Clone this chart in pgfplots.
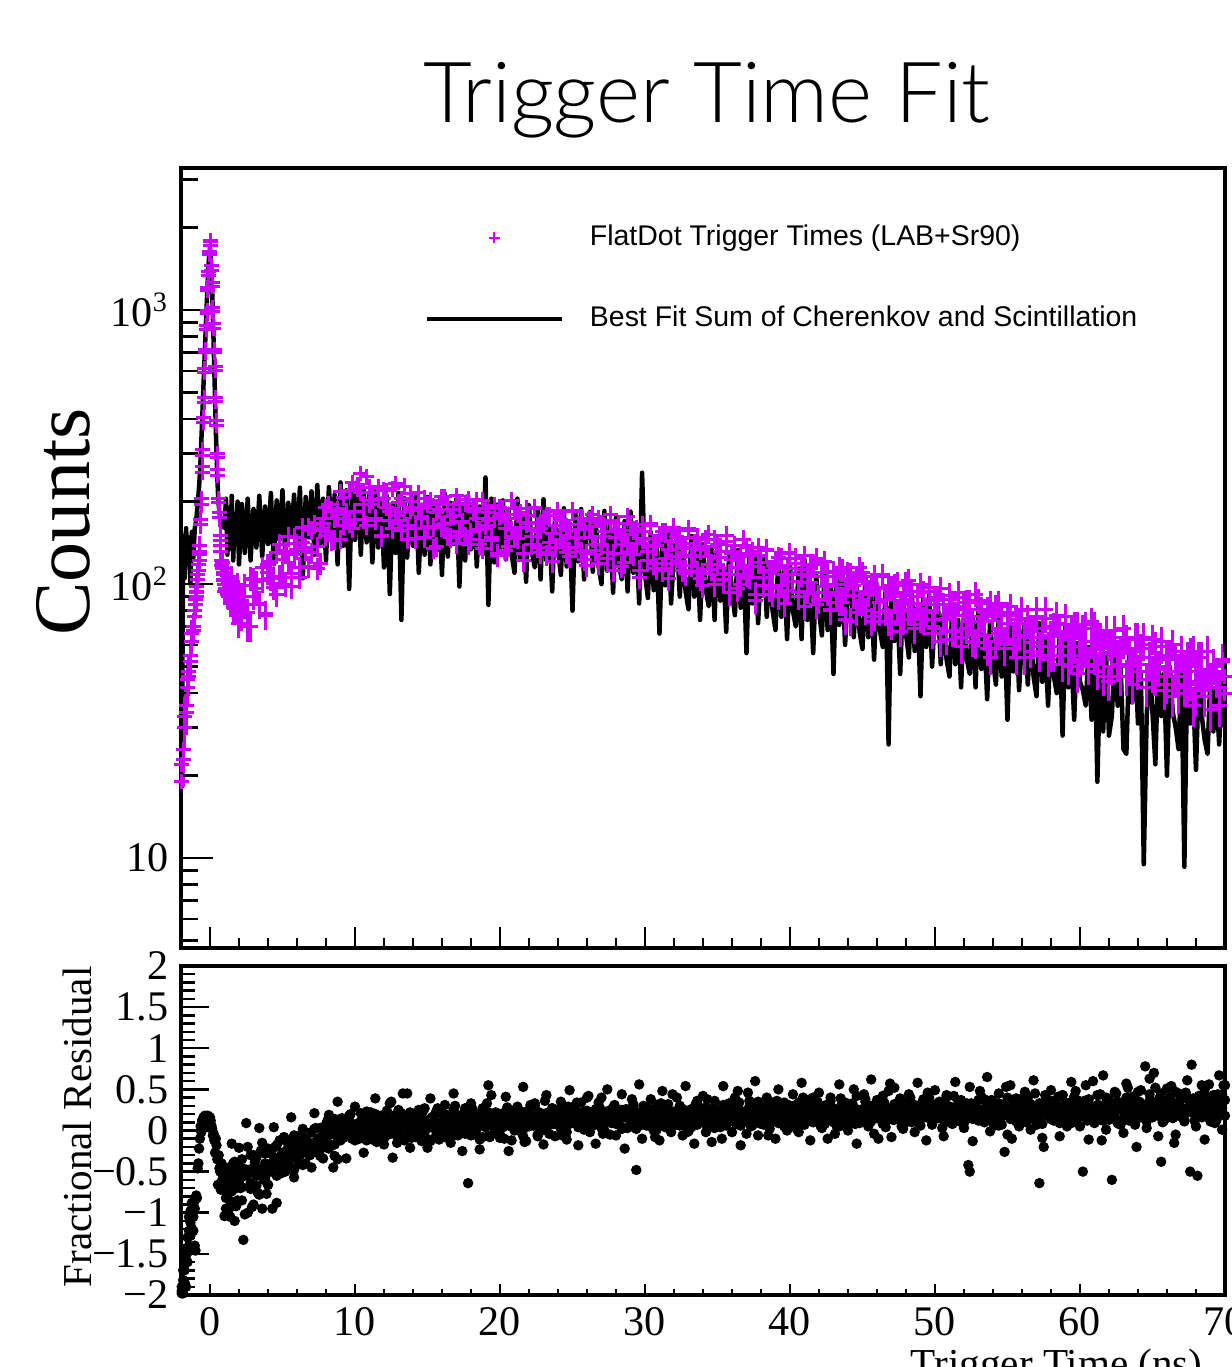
\documentclass[border=0pt]{standalone}
\usepackage{fontspec}
\usepackage{pgfplots}
\usepackage{pgfplotstable}
\pgfplotsset{compat=1.18}
\setmainfont{Liberation Serif}
\newfontfamily\titlefont{Lato Light}
\newfontfamily\legfont{Liberation Sans}
\definecolor{mag}{RGB}{204,0,255}
\pgfplotstableread{
x d d2 f r r3 r4
-1.95 19 22 18 -1.98 -1.95 -1.90
-1.85 25 23 150 -1.82 -1.98 -1.70
-1.75 30 33 105 -1.62 -1.70 -1.85
-1.65 36 34 160 -1.90 -1.45 -1.52
-1.55 42 45 118 -1.48 -1.60 -1.30
-1.45 48 46 148 -1.22 -1.05 -1.40
-1.35 55 52 100 -0.98 -1.28 -1.12
-1.25 62 66 155 -1.19 -0.88 -0.95
-1.15 70 68 125 -0.91 -1.22 -1.05
-1.05 80 76 160 -1.40 -0.95 -0.85
-1.00 84 88 165 -1.46 nan nan
-0.95 90 94 172 -0.79 nan nan
-0.90 98 93 182 -0.82 nan nan
-0.85 104 108 195 -0.46 nan nan
-0.80 112 118 210 -0.40 nan nan
-0.75 122 128 228 -0.22 nan nan
-0.70 138 132 252 -0.10 nan nan
-0.65 165 172 285 0.05 nan nan
-0.60 205 196 330 -0.02 nan nan
-0.55 255 268 385 0.12 nan nan
-0.50 310 295 450 0.08 nan nan
-0.45 390 405 530 0.16 nan nan
-0.40 480 460 620 0.06 nan nan
-0.35 590 610 720 0.18 nan nan
-0.30 720 700 840 0.11 nan nan
-0.25 850 880 980 0.17 nan nan
-0.20 1000 970 1130 0.09 nan nan
-0.15 1180 1210 1300 0.18 nan nan
-0.10 1380 1340 1460 0.13 nan nan
-0.05 1600 1640 1600 0.08 nan nan
0.00 1780 1720 1680 0.16 nan nan
0.05 1720 1790 1600 0.12 nan nan
0.10 1450 1400 1400 0.06 nan nan
0.15 1220 1260 1170 0.02 nan nan
0.20 1020 990 950 -0.06 nan nan
0.25 860 890 760 -0.04 nan nan
0.30 720 700 600 -0.12 nan nan
0.35 600 620 470 -0.27 nan nan
0.40 480 465 370 -0.10 nan nan
0.45 380 395 300 -0.18 nan nan
0.50 300 290 250 -0.35 nan nan
0.55 250 262 215 -0.66 nan nan
0.60 205 198 195 -0.30 nan nan
0.65 175 182 182 -0.46 nan nan
0.70 150 144 175 -0.50 nan nan
0.75 132 138 170 -0.72 nan nan
0.80 122 117 168 -0.40 nan nan
0.85 114 120 165 -0.60 nan nan
0.90 108 103 163 -0.67 nan nan
0.95 104 110 162 -0.55 nan nan
1.00 100 94 160 -1.04 nan nan
1.1 96 108 205 -0.62 -0.82 -0.95
1.2 104 92 128 -0.78 -0.50 -0.60
1.3 90 101 190 -0.45 -0.96 -0.72
1.4 98 85 135 -0.86 -0.65 -1.05
1.5 88 106 210 -0.16 -0.74 -0.50
1.6 95 82 122 -0.70 -0.40 -0.88
1.7 84 98 180 -0.55 -1.10 -0.38
1.8 92 80 140 -0.92 -0.58 -0.70
1.9 86 100 200 -0.60 -0.85 -0.48
2.0 94 72 118 -0.62 -0.40 -0.21
2.2 76 90 196 -0.35 -0.85 -0.69
2.4 84 99 130 -1.02 -0.55 -0.47
2.6 70 79 205 -0.48 -0.20 -1.00
2.8 105 70 122 -0.71 -0.64 -0.30
3.0 90 104 188 -0.30 -0.90 -0.45
3.2 102 96 136 -0.55 -0.33 -0.67
3.4 84 85 210 -0.78 -0.47 0.03
3.6 103 115 126 -0.95 -0.15 -0.51
3.8 78 77 192 -0.40 -0.58 -0.28
4.0 118 110 140 -0.22 -0.66 -0.66
4.2 105 121 215 -0.50 -0.28 -0.24
4.4 97 105 118 -0.36 -0.43 0.04
4.6 130 92 202 -0.18 -0.55 -0.88
4.8 107 140 145 -0.44 -0.12 -0.32
5.0 123 106 220 -0.27 -0.37 -0.37
5.2 100 131 124 -0.12 -0.50 -0.10
5.4 149 120 198 -0.38 -0.20 -0.43
5.6 109 98 150 -0.21 -0.31 0.16
5.8 128 148 212 -0.48 -0.06 -0.57
6.0 141 134 132 -0.15 -0.34 -0.09
6.2 106 115 225 -0.30 -0.18 -0.22
6.4 142 161 105 -0.08 -0.42 0.02
6.6 133 136 208 -0.26 -0.11 -0.40
6.8 162 116 148 -0.19 -0.29 -0.16
7.0 130 157 218 -0.02 -0.21 -0.45
7.2 165 166 128 -0.22 0.02 0.21
7.4 114 137 230 -0.10 -0.27 -0.19
7.6 159 119 140 -0.31 -0.09 0.03
7.8 174 166 205 0.04 -0.16 -0.34
8.0 150 190 122 -0.14 0.07 -0.05
8.2 195 156 226 -0.06 -0.22 0.19
8.4 144 187 152 0.10 -0.03 -0.18
8.6 173 145 212 -0.17 0.14 -0.31
8.8 188 179 118 -0.35 -0.08 0.35
9.0 146 217 235 0.02 -0.12 -0.04
9.2 207 164 138 -0.09 0.09 0.08
9.4 184 182 220 0.12 -0.02 -0.34
9.6 167 220 96 -0.04 0.17 0.18
9.8 234 160 228 0.08 -0.10 0.06
10.0 184 172 145 -0.12 0.04 0.29
10.2 230 223 240 0.05 -0.06 -0.05
10.4 216 254 128 0.21 0.11 0.11
10.6 172 195 225 -0.03 0.16 -0.27
10.8 246 164 142 0.10 -0.12 0.23
11.0 196 226 212 0.00 0.07 0.05
11.2 216 202 120 0.15 -0.04 -0.11
11.4 171 174 218 -0.07 0.20 0.39
11.6 204 227 136 0.06 0.01 0.01
11.8 151 149 205 0.18 -0.09 0.17
12.0 221 205 115 -0.10 0.12 -0.17
12.2 191 220 210 0.09 0.24 0.13
12.4 171 184 92 0.02 -0.03 0.33
12.6 223 159 198 0.14 0.08 -0.33
12.8 178 232 130 -0.05 0.19 0.07
13.0 199 171 215 0.25 -0.01 -0.03
13.2 157 205 74 0.07 0.13 0.21
13.4 228 184 206 -0.12 0.05 -0.09
13.6 163 146 125 0.11 -0.07 0.45
13.8 186 215 200 0.03 0.22 -0.21
14.0 200 191 138 0.16 0.00 0.15
14.2 147 159 212 -0.08 0.14 0.03
14.4 191 216 110 0.08 -0.05 0.25
14.6 174 177 195 0.20 0.10 -0.13
14.8 206 148 128 -0.02 0.27 0.09
15.0 162 196 208 0.12 0.03 -0.21
15.2 200 202 118 0.05 -0.13 0.39
15.4 135 161 202 0.17 0.09 0.03
15.6 183 137 132 -0.06 0.21 0.23
15.8 195 187 190 0.09 0.02 -0.11
16.0 165 208 108 0.22 0.11 0.09
16.2 208 166 214 0.01 -0.08 0.31
16.4 150 195 126 0.13 0.18 -0.03
16.6 176 148 198 -0.10 0.06 -0.15
16.8 187 178 140 0.07 0.25 0.45
17.0 141 210 205 0.19 -0.02 0.05
17.2 196 155 98 0.04 0.13 0.17
17.4 169 168 196 0.15 0.08 -0.25
17.6 150 197 122 -0.04 0.20 0.27
17.8 204 139 210 -0.64 0.10 0.15
18.0 155 145 134 0.06 -0.06 0.33
18.2 189 184 200 0.14 0.17 -0.01
18.4 173 203 116 0.02 0.09 0.15
18.6 139 158 192 0.20 -0.11 -0.23
18.8 202 135 128 -0.08 0.15 0.27
19.0 164 189 245 0.10 0.04 0.09
19.2 182 170 84 0.55 0.22 -0.07
19.4 144 148 205 0.12 0.07 0.43
19.6 174 194 120 0.03 -0.03 0.05
19.8 129 127 195 0.16 0.19 0.21
20.0 190 177 132 -0.05 0.11 -0.09
20.2 181 189 202 0.13 0.04 0.21
20.4 133 159 123 0.21 0.15 0.41
20.6 173 137 188 0.06 0.26 -0.25
20.8 158 202 129 -0.12 0.09 0.15
21.0 188 149 110 0.15 0.00 0.05
21.2 147 180 205 0.09 0.18 0.29
21.4 182 161 124 0.18 0.12 -0.01
21.6 122 129 181 0.01 -0.07 0.53
21.8 166 189 102 0.12 0.23 -0.13
22.0 178 168 194 0.24 0.05 0.23
22.2 149 140 131 0.07 0.16 0.11
22.4 188 190 115 0.16 0.30 0.33
22.6 136 156 188 -0.07 0.10 -0.05
22.8 159 130 104 0.11 0.02 0.17
23.0 170 173 204 0.20 0.14 -0.17
23.2 128 178 122 0.05 0.21 0.43
23.4 178 142 163 0.14 -0.04 0.07
23.6 153 121 94 0.27 0.12 0.27
23.8 136 164 181 0.09 0.18 -0.07
24.0 186 184 133 0.19 0.07 0.13
24.2 172 146 108 0.02 0.25 0.35
24.4 141 171 189 0.15 0.11 0.01
24.6 158 130 116 0.23 -0.02 -0.11
24.8 126 157 167 0.08 0.16 0.49
25.0 184 185 80 0.17 0.28 0.12
25.2 148 136 181 0.30 0.09 0.24
25.4 165 148 121 0.04 0.19 -0.18
25.6 131 174 188 0.13 0.12 0.34
25.8 158 123 104 0.22 0.01 0.22
26.0 117 129 162 0.10 0.24 0.40
26.2 171 162 184 -0.02 0.15 0.06
26.4 148 179 111 0.18 0.06 0.22
26.6 133 139 171 0.26 0.20 -0.16
26.8 173 119 116 0.07 0.13 0.34
27.0 140 166 100 0.40 0.03 0.16
27.2 156 149 185 0.14 0.22 0.00
27.4 124 130 112 0.21 0.10 0.50
27.6 180 170 163 -0.05 0.17 0.12
27.8 129 112 93 0.12 0.27 0.28
28.0 148 155 175 0.19 0.08 -0.06
28.2 158 166 119 0.08 0.14 0.24
28.4 116 139 104 0.25 0.02 0.44
28.6 152 120 170 0.16 0.21 -0.22
28.8 138 176 94 0.03 0.18 0.18
29.0 165 131 184 0.20 0.11 0.08
29.2 128 157 110 0.11 0.29 0.32
29.4 159 141 147 -0.48 0.15 0.02
29.6 106 112 85 0.06 0.06 0.56
29.8 146 165 255 0.15 0.23 -0.10
30.0 155 147 109 0.18 0.12 0.28
30.2 131 122 89 0.09 0.27 0.16
30.4 164 166 155 0.22 0.05 0.38
30.6 119 137 95 0.14 0.19 0.00
30.8 138 114 137 0.01 0.31 0.22
31.0 148 151 66 0.19 0.10 -0.12
31.2 112 155 148 0.27 0.16 0.48
31.4 155 124 99 0.10 0.04 0.12
31.6 134 105 154 0.17 0.24 0.32
31.8 119 143 85 0.05 0.13 -0.02
32.0 161 159 131 0.23 0.20 0.18
32.2 149 126 149 0.13 0.08 0.40
32.4 121 148 90 0.30 0.17 0.06
32.6 136 112 139 0.08 0.26 -0.06
32.8 109 135 94 0.18 0.12 0.54
33.0 157 159 81 0.24 -0.01 0.14
33.2 127 117 150 0.04 0.21 0.26
33.4 141 126 90 0.16 0.14 -0.16
33.6 111 148 131 0.33 0.07 0.36
33.8 134 105 74 0.11 0.22 0.24
34.0 99 109 140 0.20 0.15 0.42
34.2 145 137 95 -0.02 0.28 0.08
34.4 126 152 83 0.14 0.10 0.24
34.6 113 118 135 0.26 0.19 -0.14
34.8 146 100 74 0.09 0.03 0.36
35.0 118 140 146 0.19 0.24 0.20
35.2 132 125 87 0.12 0.16 0.04
35.4 104 109 116 0.31 0.09 0.54
35.6 151 143 67 0.06 0.20 0.16
35.8 108 93 128 0.21 0.33 0.32
36.0 123 129 94 0.15 0.12 -0.02
36.2 132 138 77 0.40 0.18 0.28
36.4 96 115 133 0.10 0.25 0.48
36.6 126 100 82 0.24 0.06 -0.18
36.8 114 146 118 0.17 0.21 0.22
37.0 136 108 56 -0.04 0.14 0.12
37.2 106 129 126 0.22 0.29 0.36
37.4 131 116 85 0.28 0.11 0.06
37.6 87 92 131 0.13 0.19 0.60
37.8 120 136 72 0.20 0.35 -0.06
38.0 127 120 112 0.08 0.16 0.30
38.2 106 99 127 0.26 0.07 0.18
38.4 133 134 76 0.18 0.24 0.40
38.6 96 111 118 0.35 0.13 0.02
38.8 112 92 80 0.11 0.20 0.24
39.0 119 121 68 0.22 0.30 -0.10
39.2 90 125 127 0.15 0.09 0.50
39.4 124 99 76 0.29 0.18 0.14
39.6 108 85 111 0.05 0.26 0.34
39.8 95 114 63 0.24 0.14 0.00
40.0 130 129 119 0.19 0.04 0.22
40.2 102 102 80 0.27 0.12 0.44
40.4 124 119 70 0.12 0.31 0.10
40.6 93 90 114 0.34 0.18 -0.02
40.8 113 108 63 0.20 0.07 0.58
41.0 83 127 123 0.07 0.25 0.18
41.2 107 94 74 0.25 0.16 0.30
41.4 117 101 98 0.18 0.38 -0.12
41.6 93 118 56 0.31 0.10 0.40
41.8 124 84 108 0.14 0.22 0.28
42.0 87 88 80 0.22 0.29 0.46
42.2 107 110 65 0.03 0.17 0.12
42.4 98 121 112 0.28 0.08 0.28
42.6 110 93 68 0.19 0.24 -0.10
42.8 81 80 99 0.36 0.14 0.40
43.0 107 111 47 0.10 0.27 0.22
43.2 91 100 107 0.24 0.20 0.06
43.4 115 86 71 0.15 0.05 0.56
43.6 86 113 111 0.30 0.33 0.18
43.8 96 74 60 0.21 0.16 0.34
44.0 110 103 94 0.08 0.23 0.00
44.2 73 109 106 0.26 0.12 0.30
44.4 99 91 64 0.17 0.28 0.50
44.6 105 79 99 0.42 0.19 -0.16
44.8 86 115 67 0.13 0.09 0.24
45.0 110 86 58 0.23 0.26 0.14
45.2 80 102 106 0.19 0.35 0.38
45.4 94 92 64 0.05 0.18 0.08
45.6 100 73 93 0.29 0.11 0.62
45.8 76 107 53 0.22 0.24 -0.04
46.0 97 96 100 0.37 0.15 0.32
46.2 86 79 68 0.16 0.30 0.20
46.4 108 107 59 0.25 0.08 0.42
46.6 80 88 96 0.11 0.21 0.04
46.8 99 73 26 0.48 0.17 0.26
47.0 71 97 104 0.20 0.27 -0.08
47.2 90 99 62 0.32 0.13 0.52
47.4 101 79 83 0.14 0.22 0.16
47.6 81 67 47 0.27 0.39 0.36
47.8 74 91 91 0.09 0.18 0.02
48.0 93 101 66 0.24 0.10 0.22
48.2 103 80 54 0.34 0.25 0.44
48.4 81 94 94 0.18 0.16 0.10
48.6 69 71 57 0.28 0.31 -0.02
48.8 90 85 83 0.12 0.21 0.58
49.0 75 100 39 0.22 0.06 0.18
49.2 93 74 89 0.38 0.26 0.30
49.4 80 79 59 0.16 0.19 -0.12
49.6 97 94 92 0.26 0.35 0.40
49.8 70 66 50 0.07 0.23 0.28
50.0 84 69 78 0.30 0.14 0.49
50.2 89 87 85 0.21 0.33 0.15
50.4 62 96 51 0.15 0.22 0.31
50.6 84 74 78 0.33 0.12 -0.07
50.8 75 63 53 0.24 0.41 0.43
51.0 91 88 46 0.10 0.18 0.25
51.2 67 79 84 0.28 0.08 0.09
51.4 77 68 51 0.19 0.27 0.59
51.6 93 89 74 0.36 0.16 0.21
51.8 64 59 42 0.22 0.25 0.37
52.0 83 81 79 0.13 0.09 0.03
52.2 69 86 53 0.27 0.30 0.33
52.4 86 73 47 -0.50 0.20 0.53
52.6 73 62 76 0.18 0.14 -0.13
52.8 61 92 42 0.31 0.23 0.27
53.0 87 67 82 0.12 0.37 0.17
53.2 76 81 49 0.25 0.19 0.41
53.4 65 73 66 0.38 0.10 0.11
53.6 81 58 38 0.20 0.28 0.65
53.8 54 85 73 0.29 0.17 -0.01
54.0 76 76 53 0.09 0.34 0.35
54.2 82 62 43 0.24 0.15 0.23
54.4 66 85 76 0.33 0.06 0.45
54.6 77 69 46 0.17 0.26 0.07
54.8 60 58 67 -0.26 0.21 0.29
55.0 72 77 32 0.27 0.40 -0.05
55.2 83 79 71 0.14 0.18 0.55
55.4 61 63 48 0.35 0.25 0.19
55.6 74 54 74 0.21 0.11 0.39
55.8 65 72 41 0.10 0.29 0.05
56.0 80 81 63 0.30 0.20 0.25
56.2 54 64 72 0.23 0.13 0.47
56.4 74 75 43 0.40 0.24 0.13
56.6 67 57 67 0.16 0.32 0.01
56.8 61 69 46 0.26 0.15 0.61
57.0 76 81 39 0.07 0.27 0.21
57.2 55 59 72 -0.64 0.19 0.33
57.4 69 64 44 0.31 0.08 -0.09
57.6 81 75 63 0.19 0.36 0.43
57.8 59 53 36 0.25 0.22 0.31
58.0 65 55 67 0.36 0.14 0.49
58.2 55 70 46 0.12 0.29 0.15
58.4 72 77 40 0.28 0.18 0.31
58.6 67 59 65 0.22 0.09 -0.07
58.8 59 51 28 0.43 0.26 0.43
59.0 76 71 70 0.18 0.33 0.25
59.2 50 63 42 0.30 0.17 0.09
59.4 68 55 56 0.09 0.24 0.59
59.6 59 71 32 0.26 0.41 0.21
59.8 71 47 61 0.33 0.13 0.37
60.0 53 64 44 0.20 0.27 0.05
60.2 55 69 41 -0.50 0.22 0.35
60.4 71 58 36 0.24 0.35 0.55
60.6 51 50 59 0.38 0.16 -0.11
60.8 62 73 32 0.15 0.28 0.29
61.0 71 54 64 0.27 0.09 0.19
61.2 48 65 19 0.21 0.31 0.43
61.4 64 58 51 0.44 0.19 0.13
61.6 56 46 29 0.12 0.25 0.67
61.8 66 68 56 0.30 0.40 0.01
62.0 44 60 28 0.18 0.13 0.37
62.2 61 50 33 -0.60 0.26 0.25
62.4 64 68 58 0.23 0.17 0.47
62.6 51 55 36 0.35 0.30 0.09
62.8 56 46 51 0.28 0.07 0.31
63.0 69 61 25 0.14 0.23 -0.03
63.2 46 63 24 0.40 0.29 0.57
63.4 57 50 55 0.25 0.12 0.21
63.6 51 43 37 0.32 0.38 0.41
63.8 64 58 57 0.19 0.21 0.07
64.0 48 64 31 0.47 0.15 0.27
64.2 58 51 48 0.22 0.33 0.49
64.4 64 60 9.5 0.30 0.18 0.15
64.6 42 45 33 0.11 0.27 0.03
64.8 54 54 51 0.36 0.44 0.63
65.0 47 63 34 0.26 0.16 0.23
65.2 59 46 22 0.52 0.24 0.35
65.4 49 50 54 0.18 0.31 -0.07
65.6 62 59 33 -0.38 0.20 0.45
65.8 43 41 47 0.31 0.12 0.33
66.0 53 43 20 0.24 0.36 0.51
66.2 55 54 50 0.40 0.22 0.17
66.4 39 60 34 0.15 0.29 0.33
66.6 53 46 30 0.28 0.47 -0.05
66.8 48 40 25 0.34 0.18 0.45
67.0 57 55 48 0.20 0.26 0.27
67.2 42 49 9.3 0.45 0.13 0.11
67.4 54 43 52 0.27 0.38 0.61
67.6 44 56 31 -0.50 0.23 0.23
67.8 57 36 41 0.38 0.31 0.39
68.0 39 50 21 0.22 0.16 0.05
68.2 48 54 46 0.33 0.42 0.35
68.4 54 45 33 0.16 0.25 0.55
68.6 41 39 27 0.50 0.19 -0.11
68.8 49 57 24 0.29 0.34 0.29
69.0 35 42 47 0.41 0.11 0.19
69.2 51 50 29 0.24 0.28 0.43
69.4 47 45 41 0.12 0.37 0.13
69.6 42 36 26 0.36 0.21 0.67
69.8 53 52 44 0.27 0.44 0.01
70.0 40 46 30 0.55 0.18 0.37
}\maindata
\pgfplotstableread{
x r
2.1 -0.70
2.3 -1.33
2.5 0.09
2.7 -0.52
2.9 -0.93
3.1 -0.38
3.3 -0.76
3.5 -0.25
3.7 -0.60
3.9 -0.77
4.1 -0.48
4.3 -0.95
4.5 -0.20
4.7 -0.34
4.9 -0.52
5.1 -0.08
5.3 -0.30
5.5 -0.45
5.7 -0.16
5.9 -0.28
6.1 -0.40
6.3 -0.05
6.5 -0.22
6.7 -0.12
6.9 -0.30
7.1 -0.18
7.3 0.03
7.5 -0.25
7.7 -0.08
7.9 -0.20
8.1 0.12
8.3 -0.02
8.5 -0.45
8.7 0.06
8.9 -0.11
9.1 0.15
9.3 -0.06
9.5 0.02
9.7 0.20
9.9 -0.03
10.1 0.08
10.3 -0.10
10.5 0.13
10.7 0.01
10.9 -0.08
11.1 0.22
11.3 0.04
11.5 -0.14
11.7 0.10
11.9 0.00
12.1 0.17
12.3 -0.05
12.5 0.35
12.7 0.07
12.9 -0.15
13.1 0.12
13.3 0.45
13.5 0.03
13.7 0.19
13.9 -0.09
14.1 0.08
14.3 0.14
14.5 -0.03
14.7 0.24
14.9 0.05
15.1 -0.11
15.3 0.16
15.5 0.09
15.7 0.27
15.9 -0.04
16.1 0.12
16.3 0.19
16.5 0.02
16.7 0.14
16.9 0.30
17.1 -0.06
17.3 0.10
17.5 0.21
17.7 0.04
17.9 0.15
18.1 0.26
18.3 -0.02
18.5 0.11
18.7 0.18
18.9 0.07
19.1 0.33
19.3 -0.08
19.5 0.13
19.7 0.22
19.9 0.05
20.1 0.16
20.3 -0.10
20.5 0.28
20.7 0.09
20.9 0.19
21.1 0.02
21.3 0.24
21.5 0.12
21.7 -0.14
21.9 0.17
22.1 0.31
22.3 0.06
22.5 0.14
22.7 0.22
22.9 0.00
23.1 0.36
23.3 0.11
23.5 0.18
23.7 0.08
23.9 0.25
24.1 0.13
24.3 -0.06
24.5 0.20
24.7 0.29
24.9 0.10
25.1 0.16
25.3 0.34
25.5 0.07
25.7 0.22
25.9 0.14
26.1 0.42
26.3 0.05
26.5 0.19
26.7 0.12
26.9 0.27
27.1 -0.04
27.3 0.17
27.5 0.24
27.7 0.09
27.9 0.31
28.1 0.13
28.3 0.20
28.5 0.03
28.7 0.26
28.9 0.15
29.1 0.38
29.3 0.08
29.5 0.21
29.7 0.12
29.9 0.30
30.1 0.06
30.3 0.18
30.5 0.25
30.7 -0.08
30.9 0.14
31.1 0.33
31.3 0.10
31.5 0.21
31.7 0.16
31.9 0.44
32.1 0.07
32.3 0.19
32.5 0.27
32.7 0.12
32.9 -0.02
33.1 0.23
33.3 0.15
33.5 0.32
33.7 0.09
33.9 0.20
34.1 0.13
34.3 0.38
34.5 0.18
34.7 0.04
34.9 0.25
35.1 0.16
35.3 -0.10
35.5 0.22
35.7 0.29
35.9 0.12
36.1 0.19
36.3 0.08
36.5 0.34
36.7 0.21
36.9 0.14
37.1 0.46
37.3 0.05
37.5 0.25
37.7 0.17
37.9 0.30
38.1 0.11
38.3 0.22
38.5 -0.06
38.7 0.27
38.9 0.19
39.1 0.36
39.3 0.13
39.5 0.24
39.7 0.09
39.9 0.31
40.1 0.18
40.3 0.26
40.5 0.01
40.7 0.22
40.9 0.40
41.1 0.15
41.3 0.29
41.5 0.11
41.7 0.24
41.9 0.35
42.1 0.06
42.3 0.20
42.5 0.31
42.7 0.17
42.9 0.26
43.1 -0.04
43.3 0.22
43.5 0.39
43.7 0.14
43.9 0.28
44.1 0.19
44.3 0.33
44.5 0.08
44.7 0.25
44.9 0.16
45.1 0.44
45.3 0.21
45.5 0.12
45.7 0.30
45.9 0.23
46.1 -0.10
46.3 0.27
46.5 0.34
46.7 0.18
46.9 0.57
47.1 0.13
47.3 0.29
47.5 0.22
47.7 0.05
47.9 0.31
48.1 0.20
48.3 0.40
48.5 0.15
48.7 0.26
48.9 0.09
49.1 0.33
49.3 0.23
49.5 0.46
49.7 0.14
49.9 0.28
50.1 0.19
50.3 0.35
50.5 0.03
50.7 0.24
50.9 0.30
51.1 0.16
51.3 0.42
51.5 0.21
51.7 0.11
51.9 0.29
52.1 0.23
52.3 -0.42
52.5 0.33
52.7 0.17
52.9 0.26
53.1 0.48
53.3 0.12
53.5 0.28
53.7 0.21
53.9 0.37
54.1 0.06
54.3 0.25
54.5 0.32
54.7 0.18
54.9 0.53
55.1 0.22
55.3 -0.10
55.5 0.29
55.7 0.15
55.9 0.38
56.1 0.24
56.3 0.10
56.5 0.33
56.7 0.20
56.9 0.45
57.1 0.16
57.3 0.28
57.5 -0.20
57.7 0.35
57.9 0.23
58.1 0.13
58.3 0.30
58.5 0.41
58.7 0.19
58.9 0.26
59.1 0.05
59.3 0.34
59.5 0.22
59.7 0.48
59.9 0.17
60.1 0.29
60.3 0.36
60.5 0.12
60.7 0.25
60.9 0.60
61.1 0.20
61.3 0.31
61.5 -0.12
61.7 0.27
61.9 0.39
62.1 0.14
62.3 0.24
62.5 0.45
62.7 0.08
62.9 0.32
63.1 0.21
63.3 0.52
63.5 0.18
63.7 0.28
63.9 -0.20
64.1 0.35
64.3 0.25
64.5 0.78
64.7 0.15
64.9 0.30
65.1 0.70
65.3 0.22
65.5 0.40
65.7 0.10
65.9 0.33
66.1 0.26
66.3 0.54
66.5 -0.15
66.7 0.29
66.9 0.37
67.1 0.19
67.3 0.46
67.5 0.23
67.7 0.80
67.9 0.12
68.1 -0.55
68.3 0.31
68.5 0.40
68.7 0.20
68.9 0.56
69.1 0.27
69.3 0.09
69.5 0.44
69.7 0.33
69.9 0.55
}\resdata
\pgfplotsset{
  panel/.style={
    scale only axis, width=10.44cm, xmin=-2, xmax=70,
    axis line style={line width=0.04cm},
    tick align=inside, xtick pos=left, ytick pos=left,
    every tick/.style={black, line width=0.025cm},
    tick label style={font=\fontsize{12}{14}\selectfont},
  },
  magpts/.style={mag, only marks, mark=+, mark size=0.075cm, line width=0.03cm, forget plot,
    error bars/.cd, y dir=both, y explicit, error mark=none,
    error bar style={mag, line width=0.03cm}},
  resdots/.style={black, only marks, mark=*, mark size=0.045cm},
}
\begin{document}
\begin{tikzpicture}
\useasboundingbox (0,0) rectangle (12.32,13.67);
\clip (0,0) rectangle (12.32,13.67);
\node[font={\titlefont\fontsize{24}{28}\selectfont}, anchor=base] at (7.07,12.44) {Trigger Time Fit};
\node[font={\fontsize{22.8}{26}\selectfont}, rotate=90, anchor=base] at (0.90,8.45) {Counts};
\node[font={\fontsize{11.7}{14}\selectfont}, rotate=90, anchor=base] at (0.92,2.40) {Fractional Residual};
\node[font={\fontsize{11.7}{14}\selectfont}, anchor=base east] at (12.15,-0.10) {Trigger Time (ns)};
% upper panel
\begin{axis}[panel, at={(1.81cm,4.19cm)}, anchor=south west, height=7.80cm,
  ymode=log, ymin=4.7, ymax=3300, axis on top,
  xtick=\empty,
  ytick={10,100,1000}, yticklabels={10,10\textsuperscript{2},10\textsuperscript{3}},
  minor ytick={5,6,7,8,9,20,30,40,50,60,70,80,90,200,300,400,500,600,700,800,900,2000,3000},
  major tick length=0.32cm, minor tick length=0.17cm,
  legend style={at={(0.233,0.928)}, anchor=north west, draw=none, fill=none,
    inner sep=0pt, row sep=0.55cm, column sep=0.26cm,
    nodes={inner sep=0pt, font={\legfont\fontsize{8.1}{9.7}\selectfont}}},
  legend cell align=left,
]
\addlegendimage{legend image code/.code={\path[draw=none] (0cm,0cm) -- (1.35cm,0cm);
    \draw[mag, line width=0.02cm] (0.62cm,0cm) -- (0.73cm,0cm) (0.675cm,-0.055cm) -- (0.675cm,0.055cm);}}
\addlegendentry{FlatDot Trigger Times (LAB+Sr90)}
\addlegendimage{legend image code/.code={\draw[black, line width=0.04cm] (0cm,0cm) -- (1.35cm,0cm);}}
\addlegendentry{Best Fit Sum of Cherenkov and Scintillation}
\addplot[black, line width=0.045cm, line join=round, forget plot]
  table[x=x, y=f]{\maindata};
\addplot[magpts] table[x=x, y=d, y error expr=sqrt(\thisrow{d})]{\maindata};
\addplot[magpts] table[x=x, y=d2, y error expr=sqrt(\thisrow{d2})]{\maindata};
\end{axis}
\begin{axis}[panel, at={(1.81cm,4.19cm)}, anchor=south west, height=7.80cm,
  ymin=0, ymax=1, hide y axis,
  xtick={0,10,20,30,40,50,60,70}, xticklabels={}, minor x tick num=4,
  major tick length=0.21cm, minor tick length=0.10cm]
\end{axis}
% lower panel
\begin{axis}[panel, at={(1.81cm,0.72cm)}, anchor=south west, height=3.29cm,
  ymin=-2, ymax=2, axis on top, xtick=\empty,
  ytick={-2,-1.5,-1,-0.5,0,0.5,1,1.5,2},
  yticklabels={−2,−1.5,−1,−0.5,0,0.5,1,1.5,2},
  minor y tick num=4,
  major tick length=0.28cm, minor tick length=0.14cm]
\addplot[resdots] table[x=x, y=r]{\maindata};
\addplot[resdots] table[x=x, y=r3]{\maindata};
\addplot[resdots] table[x=x, y=r4]{\maindata};
\addplot[resdots] table[x=x, y=r]{\resdata};
\end{axis}
\begin{axis}[panel, at={(1.81cm,0.72cm)}, anchor=south west, height=3.29cm,
  ymin=0, ymax=1, hide y axis,
  xtick={0,10,20,30,40,50,60,70}, xticklabels={0,10,20,30,40,50,60,70}, minor x tick num=4,
  major tick length=0.11cm, minor tick length=0.06cm]
\end{axis}
\end{tikzpicture}
\end{document}
